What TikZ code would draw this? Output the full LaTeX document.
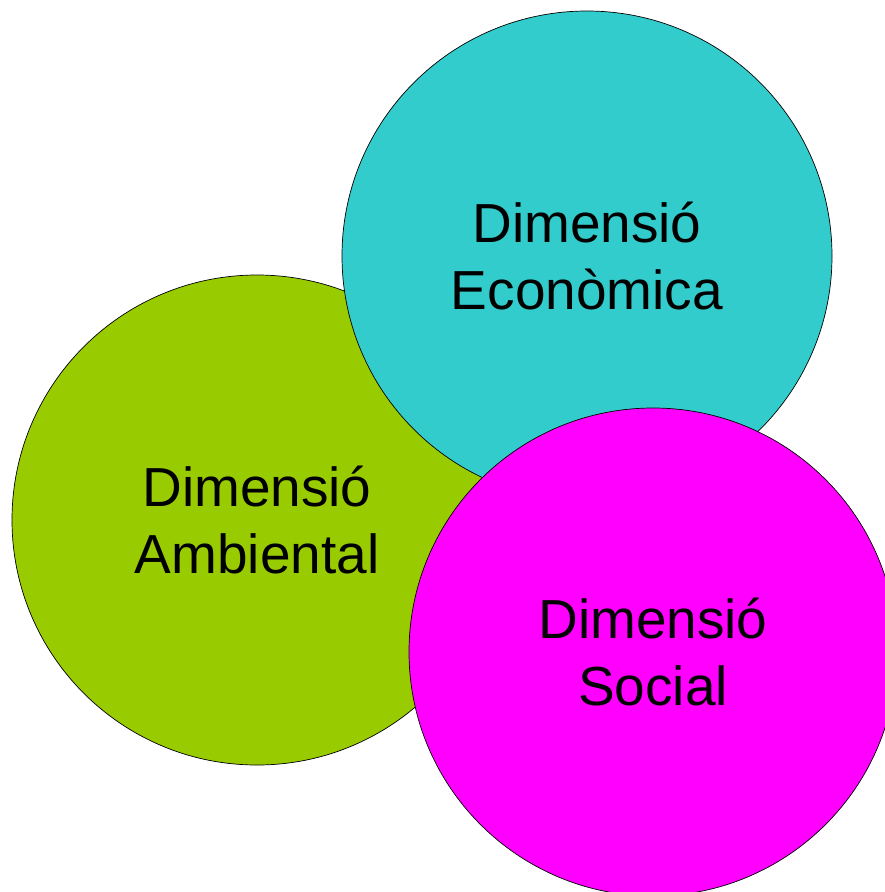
\documentclass[tikz,border=0pt]{standalone}
\usepackage{fontspec}
\setmainfont{Liberation Sans}
\definecolor{ambgreen}{HTML}{99CC00}
\definecolor{ecocyan}{HTML}{33CCCC}
\definecolor{socmag}{HTML}{FF00FF}
\begin{document}
\begin{tikzpicture}[x=1pt,y=-1pt,
  dim/.style={circle, draw=black, line width=0.7pt, inner sep=0pt, align=center,
    font=\fontsize{55}{67}\selectfont}]
\useasboundingbox (0,0) rectangle (885,892);
\clip (0,0) rectangle (885,892);
\node[dim, fill=ambgreen, minimum size=490pt] (amb) at (257,520) {Dimensió\\Ambiental};
\node[dim, fill=ecocyan, minimum size=490pt] (eco) at (587,256) {Dimensió\\Econòmica};
\node[dim, fill=socmag, minimum size=488pt] (soc) at (653,652) {Dimensió\\Social};
\end{tikzpicture}
\end{document}
